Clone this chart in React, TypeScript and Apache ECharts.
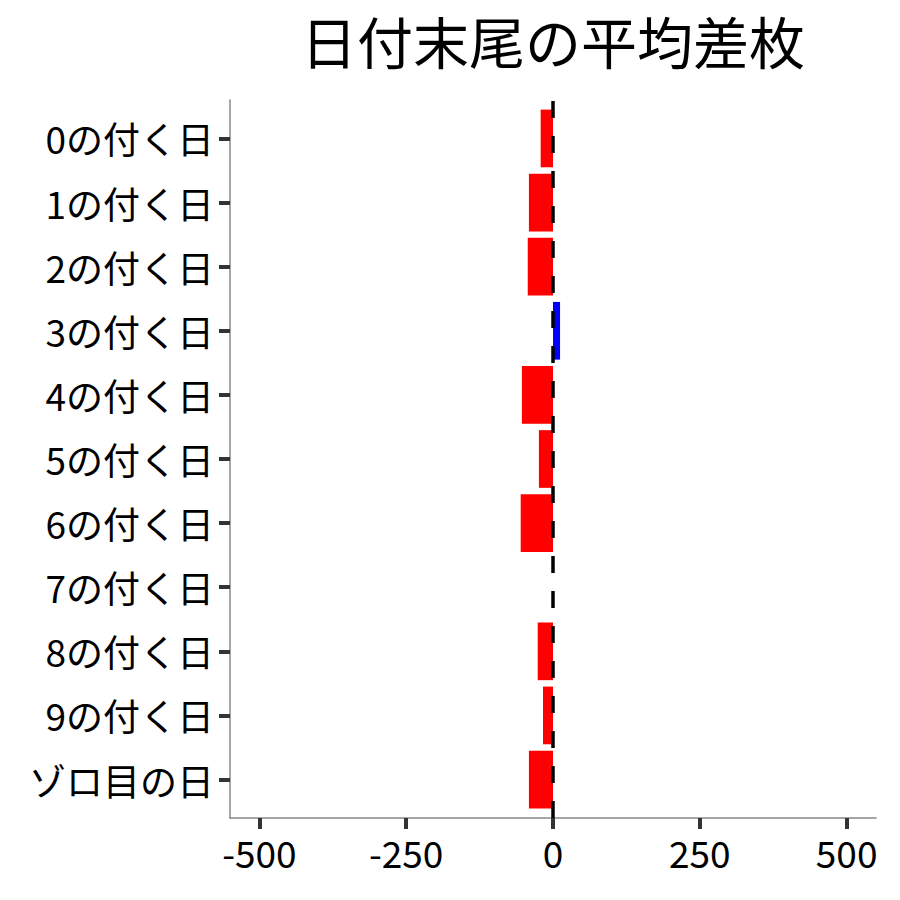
import React, { useEffect, useRef } from "react";
import * as echarts from "echarts";

const categories = [
  "0の付く日",
  "1の付く日",
  "2の付く日",
  "3の付く日",
  "4の付く日",
  "5の付く日",
  "6の付く日",
  "7の付く日",
  "8の付く日",
  "9の付く日",
  "ゾロ目の日",
];
const meanDiff = [-21, -41, -43, 12, -53, -24, -55, 0, -26, -17, -41];
const xTicks = [-500, -250, 0, 250, 500];
const xMin = -550;
const xMax = 550;
const title = "日付末尾の平均差枚";

const FONT = "Noto Sans CJK JP";

export default function App() {
  const ref = useRef<HTMLDivElement>(null);
  useEffect(() => {
    if (!ref.current) return;
    const chart = echarts.init(ref.current, null, { renderer: "svg" });
    const option: any = {
      animation: false,
      backgroundColor: "#ffffff",
      title: {
        text: title,
        left: 553,
        top: 11,
        padding: 0,
        textAlign: "center",
        textStyle: { fontFamily: FONT, fontSize: 56, fontWeight: "normal", color: "#000" },
      },
      grid: [
        { left: 230, right: 24, top: 106.4, bottom: 88.4, containLabel: false },
        { left: 230, right: 24, top: 100, bottom: 82, containLabel: false },
      ],
      xAxis: [
        { type: "value", gridIndex: 0, min: xMin, max: xMax, show: false },
        {
          type: "value",
          gridIndex: 1,
          min: xMin,
          max: xMax,
          axisLine: { show: true, onZero: false, lineStyle: { color: "#888888", width: 1.5 } },
          axisTick: { show: true, customValues: xTicks, length: 11, lineStyle: { color: "#333333", width: 4 } },
          axisLabel: {
            customValues: xTicks,
            fontFamily: FONT,
            fontSize: 37,
            color: "#000",
            margin: 15,
          },
          splitLine: { show: false },
        },
      ],
      yAxis: [
        {
          type: "category",
          gridIndex: 0,
          data: categories,
          inverse: true,
          axisLine: { show: false, onZero: false },
          axisTick: { show: true, alignWithLabel: true, length: 11, lineStyle: { color: "#333333", width: 4 } },
          axisLabel: { fontFamily: FONT, fontSize: 37, color: "#000", margin: 16 },
          splitLine: { show: false },
        },
        {
          type: "value",
          gridIndex: 1,
          min: 0,
          max: 1,
          axisLine: { show: true, onZero: false, lineStyle: { color: "#888888", width: 1.5 } },
          axisTick: { show: false },
          axisLabel: { show: false },
          splitLine: { show: false },
        },
      ],
      series: [
        {
          type: "bar",
          xAxisIndex: 0,
          yAxisIndex: 0,
          barCategoryGap: "10%",
          data: meanDiff.map((v) => ({
            value: v,
            itemStyle: { color: v >= 0 ? "#0000FF" : "#FF0000" },
          })),
          z: 2,
        },
        {
          type: "line",
          xAxisIndex: 1,
          yAxisIndex: 1,
          data: [
            [0, 0],
            [0, 1],
          ],
          symbol: "none",
          lineStyle: { color: "#000", width: 3.5, type: [17, 18] },
          z: 10,
        },
      ],
    };
    chart.setOption(option);
    return () => chart.dispose();
  }, []);
  return (
    <div
      ref={ref}
      style={{ position: "absolute", left: 0, top: 0, width: 900, height: 900 }}
    />
  );
}
